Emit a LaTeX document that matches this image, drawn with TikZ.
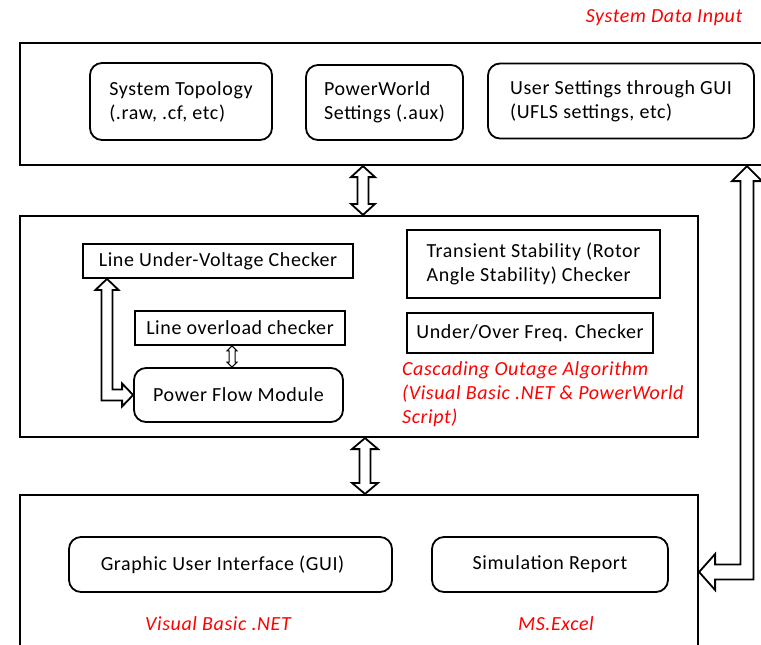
\documentclass[tikz,border=0pt]{standalone}
\usepackage{fontspec}
\setmainfont{Carlito}[LetterSpace=3]
\usetikzlibrary{calc}
\newcommand\vdarrow[6][]{%
  \draw[arrowline,#1] (#2) -- ($(#2)+(#5,#6)$) -- ($(#2)+(#4,#6)$) -- ($(#3)+(#4,-#6)$) -- ($(#3)+(#5,-#6)$) -- (#3)
    -- ($(#3)+(-#5,-#6)$) -- ($(#3)+(-#4,-#6)$) -- ($(#2)+(-#4,#6)$) -- ($(#2)+(-#5,#6)$) -- cycle;}
\begin{document}
\begin{tikzpicture}[x=1pt,y=-1pt,
  font=\fontsize{20}{24}\selectfont,
  bigbox/.style={draw, line width=2.2pt, inner sep=0pt},
  rbox/.style={draw, line width=1.8pt, rounded corners=12pt, align=left, inner sep=0pt},
  sbox/.style={draw, line width=1.8pt, align=left, inner sep=0pt},
  redtxt/.style={text=red, font=\fontsize{20}{24}\selectfont\itshape, inner sep=0pt, align=left},
  arrowline/.style={draw, line width=1.8pt, line join=miter, fill=white}]
\clip (0,0) rectangle (761,645);
% outer boxes
\node[bigbox, minimum width=760, minimum height=122] (top) at (400,104) {};
\node[bigbox, minimum width=678, minimum height=221] (mid) at (359,326.5) {};
\node[bigbox, minimum width=678, minimum height=170] (bot) at (359,580) {};
% top row
\node[rbox, minimum width=182, minimum height=77] (systop) at (181,101.5) {System Topology\\(.raw, .cf, etc)};
\node[rbox, minimum width=157, minimum height=75] (pws) at (384.5,102.5) {PowerWorld\\Settings (.aux)};
\node[rbox, minimum width=266, minimum height=75] (ugui) at (621,101) {User Settings through GUI\\(UFLS settings, etc)};
\node[redtxt, anchor=base] (sdi) at (664,23) {System Data Input};
% middle
\node[sbox, minimum width=270, minimum height=34] (luv) at (218,261) {Line Under-Voltage Checker};
\node[sbox, minimum width=210, minimum height=34] (lo) at (240,328) {Line overload checker};
\node[rbox, minimum width=209, minimum height=54] (pfm) at (238.5,395) {Power Flow Module};
\node[sbox, minimum width=253, minimum height=68] (ts) at (533.5,264) {Transient Stability (Rotor\\Angle Stability) Checker};
\node[sbox, minimum width=246, minimum height=40] (uof) at (530,333) {Under/Over Freq. Checker};
\node[redtxt, anchor=west] (coa) at (402,394) {Cascading Outage Algorithm\\(Visual Basic .NET \& PowerWorld\\Script)};
% bottom
\node[rbox, minimum width=323, minimum height=55] (gui) at (230.5,564.5) {Graphic User Interface (GUI)\hspace{16pt}};
\node[rbox, minimum width=236, minimum height=55] (simrep) at (550,564.5) {Simulation Report};
\node[redtxt, anchor=base] (vbn) at (218,630) {Visual Basic .NET};
\node[redtxt, anchor=base] (mse) at (556,630) {MS.Excel};
% vertical double arrows between blocks
\coordinate (a1t) at (363,0 |- top.south);
\coordinate (a1b) at (363,0 |- mid.north);
\vdarrow{a1t}{a1b}{5.5}{12}{11}
\coordinate (a2t) at (365,0 |- mid.south);
\coordinate (a2b) at (365,0 |- bot.north);
\vdarrow{a2t}{a2b}{5.5}{13}{11}
% small arrow between overload checker and power flow
\coordinate (s1) at (232,0 |- lo.south);
\coordinate (s2) at (232,0 |- pfm.north);
\vdarrow[line width=1pt]{s1}{s2}{3}{5}{5}
% bent arrow: line under-voltage <-> power flow
\coordinate (l1) at (107,0 |- luv.south);
\coordinate (l2) at (pfm.west);
\coordinate (lc) at (l1 |- l2);
\draw[arrowline] (l1) -- ($(l1)+(11.5,11)$) -- ($(l1)+(5.5,11)$) -- ($(lc)+(5.5,-5.5)$)
  -- ($(l2)+(-11,-5.5)$) -- ($(l2)+(-11,-11.5)$) -- (l2) -- ($(l2)+(-11,11.5)$) -- ($(l2)+(-11,5.5)$)
  -- ($(lc)+(-5.5,5.5)$) -- ($(l1)+(-5.5,11)$) -- ($(l1)+(-11.5,11)$) -- cycle;
% bent arrow: bottom block <-> system data input
\coordinate (r1) at (747,0 |- top.south);
\coordinate (r2) at (bot.east |- 0,572);
\coordinate (rc) at (r1 |- r2);
\draw[arrowline] (r1) -- ($(r1)+(15,15)$) -- ($(r1)+(6.5,15)$) -- ($(rc)+(6.5,7.5)$)
  -- ($(r2)+(16,7.5)$) -- ($(r2)+(16,18)$) -- (r2) -- ($(r2)+(16,-18)$) -- ($(r2)+(16,-7.5)$)
  -- ($(rc)+(-6.5,-7.5)$) -- ($(r1)+(-6.5,15)$) -- ($(r1)+(-15,15)$) -- cycle;
\end{tikzpicture}
\end{document}
